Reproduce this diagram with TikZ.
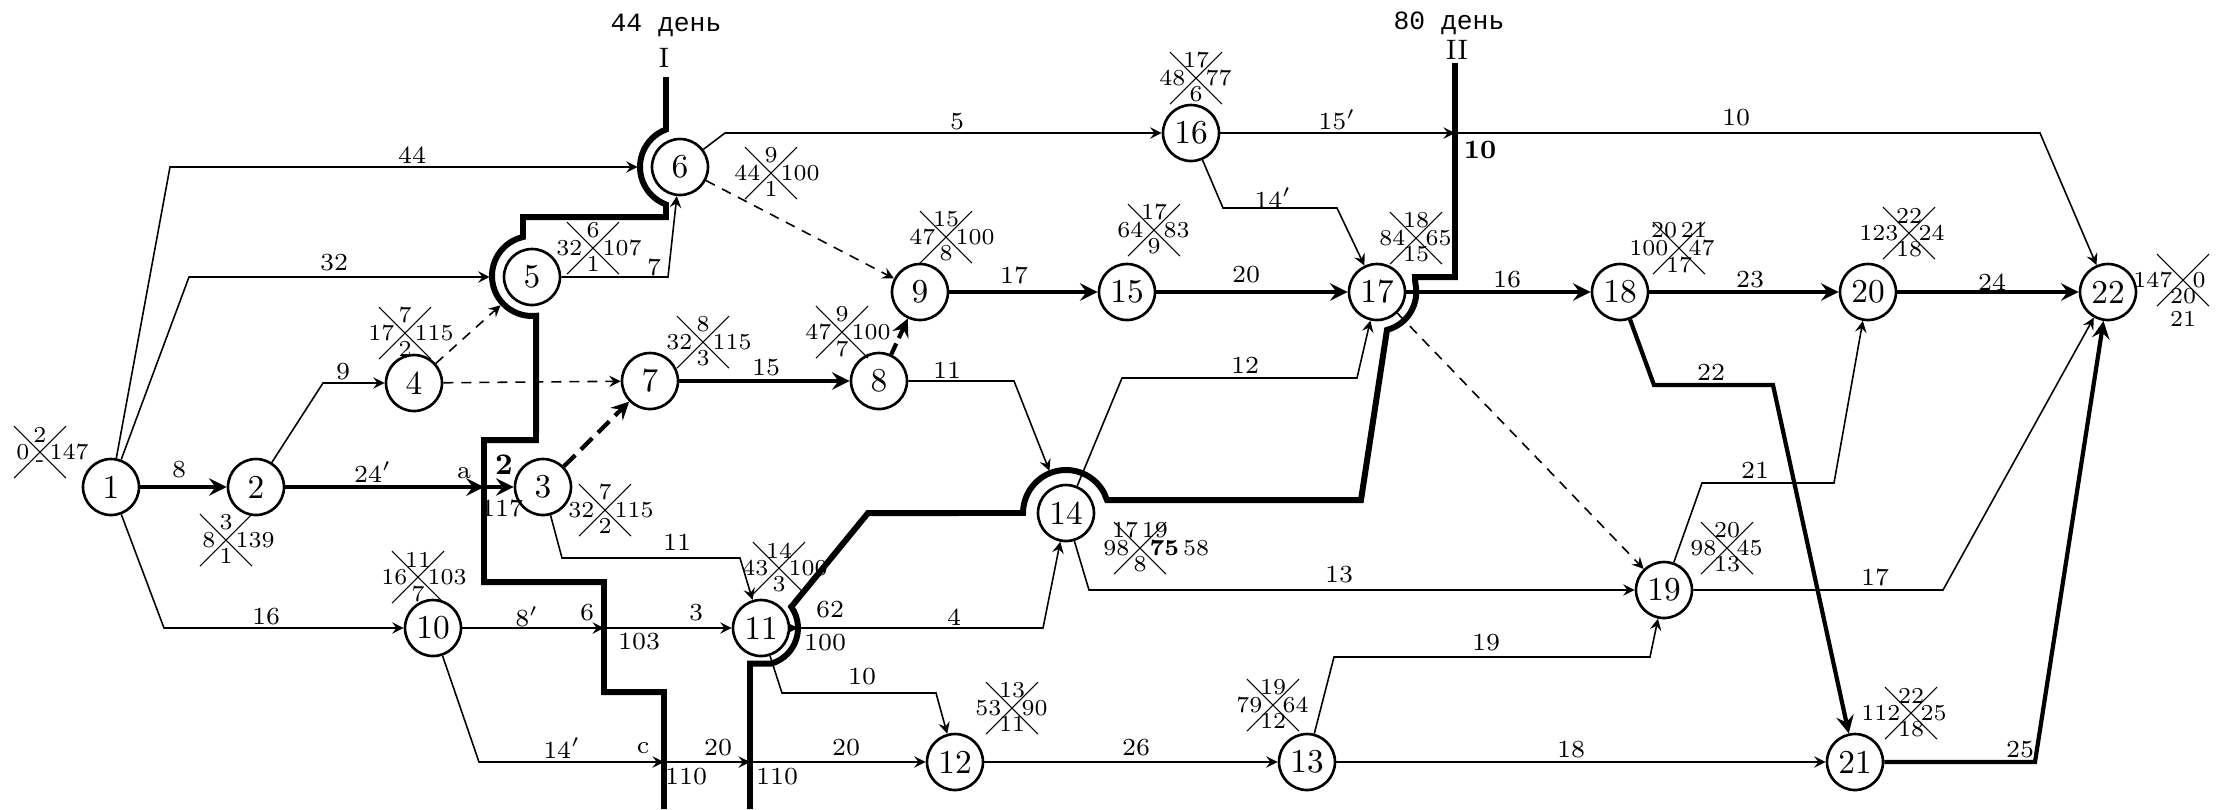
\documentclass[tikz,border=0pt]{standalone}
\usepackage{fontspec}
\usepackage{tikz}
\newfontfamily\daymono{Liberation Mono}

\begin{document}
\begin{tikzpicture}[x=0.1mm, y=-0.1mm, >=stealth,
    % events
    ev/.style={circle, draw=black, line width=0.75pt, fill=white,
      minimum size=5.6mm, inner sep=0pt, font=\fontsize{9.5}{10}\selectfont},
    % labels
    lab/.style={inner sep=0pt, font=\fontsize{7}{7.5}\selectfont},
    num/.style={inner sep=0pt, align=center, font=\fontsize{6.5}{6.5}\selectfont},
    % lines
    job/.style={line width=0.45pt},
    crit/.style={line width=1.2pt},
    cut/.style={line width=1.7pt},
    fict/.style={dash pattern=on 1mm off 0.8mm},
    toarc/.style={shorten >=1.3mm}]
  \useasboundingbox (0,0) rectangle (2222,809);

  \foreach \k/\x/\y in {1/111/487, 2/256/487, 3/543/487, 4/414/383, 5/532/277,
      6/680/167, 7/650/381, 8/879/381, 9/920/292, 10/433/628, 11/761/628,
      12/955/762, 13/1307/762, 14/1066/513, 15/1127/292, 16/1191/133,
      17/1377/292, 18/1620/292, 19/1664/590, 20/1868/292, 21/1855/762,
      22/2108/292}
    \node[ev] (n\k) at (\x,\y) {\k};

  % crossings of the cuts
  \coordinate (k1) at (484,487);
  \coordinate (k2) at (604,628);
  \coordinate (k3) at (664,762);
  \coordinate (k4) at (750,762);
  \coordinate (k5) at (798,628);
  \coordinate (k6) at (1455,133);

  % cut lines
  \draw[cut] (666,77) -- (666,129.5) arc[start angle=249.5, end angle=110.5, radius=40]
    -- (666,217) -- (523,217) -- (523,237) arc[start angle=257, end angle=84, radius=40]
    -- (536,440) -- (484,440) -- (484,582) -- (604,582) -- (604,692) -- (664,692) -- (664,809);
  \draw[cut] (1455,63) -- (1455,277) -- (1415,277) -- (1415.3,283)
    arc[start angle=-13, end angle=75.3, radius=39.3] -- (1361,500) -- (1107,500)
    -- (1104,492.8) arc[start angle=332, end angle=180, radius=43] -- (868,513)
    -- (791.3,606.8) arc[start angle=-35, end angle=74, radius=37] -- (750,663.6) -- (750,809);
  \node[font=\daymono\fontsize{7.5}{8}\selectfont] (d1) at (666,25) {44 день};
  \node[font=\fontsize{8}{9}\selectfont] (r1) at (664,58) {I};
  \node[font=\daymono\fontsize{7.5}{8}\selectfont] (d2) at (1449,23) {80 день};
  \node[font=\fontsize{8}{9}\selectfont] (r2) at (1457,50) {II};

  % critical path
  \draw[crit,->] (n1) -- (n2);
  \draw[crit,->] (n2) -- (k1);
  \draw[crit,->] (k1) -- (n3);
  \draw[crit,->] (n7) -- (n8);
  \draw[crit,->] (n9) -- (n15);
  \draw[crit,->] (n15) -- (n17);
  \draw[crit,->] (n17) -- (n18);
  \draw[crit,->] (n18) -- (n20);
  \draw[crit,->] (n20) -- (n22);
  \draw[crit,->] (n18) -- (1654,385) -- (1773,385) -- (n21);
  \draw[crit,->] (n21) -- (2035,762) -- (n22);
  \draw[crit,dash pattern=on 1.6mm off 0.8mm,->] (n3) -- (n7);
  \draw[crit,dash pattern=on 1.2mm off 0.6mm,->] (n8) -- (n9);

  % other jobs
  \draw[job,->,toarc] (n1) -- (170,167) -- (n6);
  \draw[job,->,toarc] (n1) -- (189,277) -- (n5);
  \draw[job,->] (n1) -- (164,628) -- (n10);
  \draw[job,->] (n2) -- (323,383) -- (n4);
  \draw[job,fict,->,toarc] (n4) -- (n5);
  \draw[job,fict,->] (n4) -- (n7);
  \draw[job,->] (n5) -- (668,277) -- (n6);
  \draw[job,->] (n6) -- (725,133) -- (n16);
  \draw[job,fict,->] (n6) -- (n9);
  \draw[job,->] (n3) -- (562,558) -- (740,558) -- (n11);
  \draw[job,->] (n10) -- (k2);
  \draw[job,->] (k2) -- (n11);
  \draw[job,->] (n10) -- (479,762) -- (k3);
  \draw[job,->] (k3) -- (k4);
  \draw[job,->] (k4) -- (n12);
  \draw[job,->] (n11) -- (k5);
  \draw[job,->] (k5) -- (1043,628) -- (n14);
  \draw[job,->] (n11) -- (782,693) -- (936,693) -- (n12);
  \draw[job,->,shorten >=1.6mm] (n8) -- (1014,381) -- (n14);
  \draw[job,->] (n14) -- (1122,378) -- (1357,378) -- (n17);
  \draw[job,->] (n14) -- (1089,590) -- (n19);
  \draw[job,->] (n16) -- (1223,208) -- (1337,208) -- (n17);
  \draw[job,->] (n16) -- (k6);
  \draw[job,->] (k6) -- (2040,133) -- (n22);
  \draw[job,fict,->] (n17) -- (n19);
  \draw[job,->] (n12) -- (n13);
  \draw[job,->] (n13) -- (n21);
  \draw[job,->] (n13) -- (1334,657) -- (1650,657) -- (n19);
  \draw[job,->] (n19) -- (1702,483) -- (1834,483) -- (n20);
  \draw[job,->] (n19) -- (1943,590) -- (n22);

  % durations
  \foreach \k/\x/\y/\t in {1/179/470/8, 2/373/472/24$'$, 3/343/372/9, 4/412/155/44,
      5/334/263/32, 6/266/617/16, 7/654/267/7, 8/957/122/5, 9/766/368/15,
      10/947/370/11, 11/1014/275/17, 12/1246/275/20, 13/1273/198/14$'$,
      14/1337/120/15$'$, 15/1736/118/10, 16/677/542/11, 17/527/617/8$'$,
      18/696/613/3, 19/954/617/4, 20/862/677/10, 21/562/748/14$'$, 22/846/748/20,
      23/1245/365/12, 24/1339/575/13, 25/1136/748/26, 26/1486/643/19,
      27/1571/750/18, 28/1507/280/16, 29/1750/280/23, 30/1711/372/22,
      31/1755/470/21, 32/1875/577/17, 33/1992/282/24, 34/2020/750/25}
    \node[lab] (w\k) at (\x,\y) {\t};

  % values at the cuts
  \foreach \k/\x/\y/\t in {1/464/473/a, 2/502/508/117, 3/587/613/6, 4/639/642/103,
      5/830/610/62, 6/825/643/100, 7/643/748/c, 8/686/777/110, 9/718/748/20,
      10/777/777/110}
    \node[lab] (q\k) at (\x,\y) {\t};
  \node[lab, font=\bfseries\fontsize{8.5}{9}\selectfont] (q11) at (504,465) {2};
  \node[lab, font=\bfseries\fontsize{7.5}{8}\selectfont] (q12) at (1480,150) {10};

  % event parameters
  \foreach \k/\x/\y/\t/\l/\r/\b in {1/40/452/2/0/147/-, 2/226/540/3/8/139/1,
      3/605/510/7/32/115/2, 4/405/333/7/17/115/2, 5/593/248/6/32/107/1,
      6/771/173/9/44/100/1, 7/703/342/8/32/115/3, 8/842/332/9/47/100/7,
      9/946/237/15/47/100/8, 10/418/577/11/16/103/7, 11/779/568/14/43/100/3,
      12/1012/708/13/53/90/11, 13/1273/705/19/79/64/12,
      14/1140/548/17\,19/98/{\bfseries 75}\,58/8, 15/1154/230/17/64/83/9,
      16/1196/78/17/48/77/6, 17/1416/238/18/84/65/15, 18/1679/248/20\,21/100/47/17,
      19/1727/548/20/98/45/13, 20/1909/233/22/123/24/18, 21/1911/713/22/112/25/18,
      22/2183/280/{}/147/0/20\\21} {
    \draw[line width=0.3pt] (\x-26,\y-26) -- (\x+26,\y+26) (\x-26,\y+26) -- (\x+26,\y-26);
    \node[num, anchor=south] (t\k) at (\x,\y-9) {\t};
    \node[num, anchor=east] (l\k) at (\x-10,\y) {\l};
    \node[num, anchor=west] (r\k) at (\x+9,\y) {\r};
    \node[num, anchor=north] (b\k) at (\x,\y+8) {\b};
  };
\end{tikzpicture}
\end{document}
